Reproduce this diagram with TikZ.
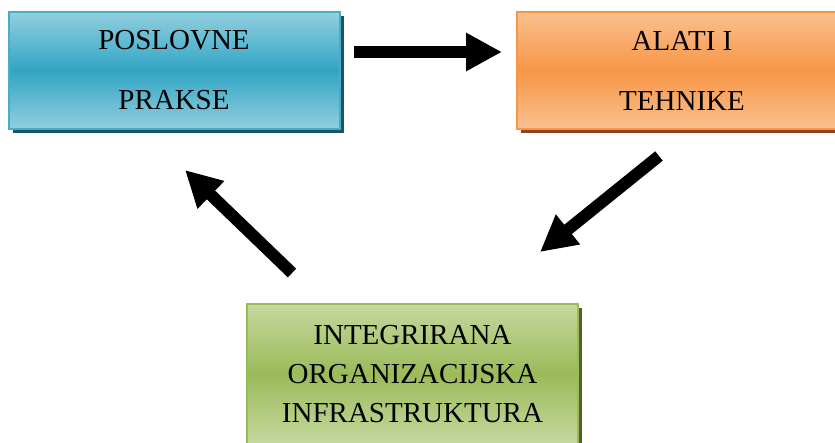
\documentclass[tikz,border=0pt]{standalone}
\usepackage{fontspec}
\setmainfont{Liberation Serif}
\usepackage{xcolor}
\definecolor{prakselight}{HTML}{92CFE0}
\definecolor{praksemid}{HTML}{31A5C4}
\definecolor{prakseline}{HTML}{4BACC6}
\definecolor{praksedark}{HTML}{1A5565}
\definecolor{alatilight}{HTML}{FAC090}
\definecolor{alatimid}{HTML}{F79646}
\definecolor{alatidark}{HTML}{8E4320}
\definecolor{infralight}{HTML}{C5D89F}
\definecolor{inframid}{HTML}{9BBB59}
\definecolor{infradark}{HTML}{4F6228}
\usetikzlibrary{arrows.meta, positioning, shadows}

\begin{document}
\begin{tikzpicture}[x=1pt, y=-1pt,
  box/.style={rectangle, line width=2pt, minimum width=331pt, align=center, inner sep=0pt},
  flow/.style={-{Triangle[length=36pt, width=36pt]}, line width=12pt, black}]
  \clip (0,0) rectangle (835,443);
  % Boxes
  \node[box, draw=prakseline, minimum height=117pt,
        top color=prakselight, bottom color=prakselight, middle color=praksemid,
        drop shadow={shadow xshift=4pt, shadow yshift=-4pt, fill=praksedark, opacity=1},
        font=\fontsize{29}{60}\selectfont] (prakse) at (174,70.5) {POSLOVNE\\PRAKSE};
  \node[box, draw=alatimid, minimum height=117pt,
        top color=alatilight, bottom color=alatilight, middle color=alatimid,
        drop shadow={shadow xshift=4pt, shadow yshift=-4pt, fill=alatidark, opacity=1},
        font=\fontsize{29}{60}\selectfont] (alati) at (682,70.5) {ALATI I\\TEHNIKE};
  \node[box, draw=inframid, minimum height=140pt,
        top color=infralight, bottom color=infralight, middle color=inframid,
        drop shadow={shadow xshift=4pt, shadow yshift=-4pt, fill=infradark, opacity=1},
        font=\fontsize{29}{39}\selectfont] (infra) at (412.5,374) {INTEGRIRANA\\ORGANIZACIJSKA\\INFRASTRUKTURA};
  % Arrows
  \coordinate (a1s) at (354,52);  \coordinate (a1e) at (502,52);
  \coordinate (a2s) at (659,156); \coordinate (a2e) at (540,252);
  \coordinate (a3s) at (292,273); \coordinate (a3e) at (185,170);
  \draw[flow] (a1s) -- (a1e);
  \draw[flow] (a2s) -- (a2e);
  \draw[flow] (a3s) -- (a3e);
\end{tikzpicture}
\end{document}
